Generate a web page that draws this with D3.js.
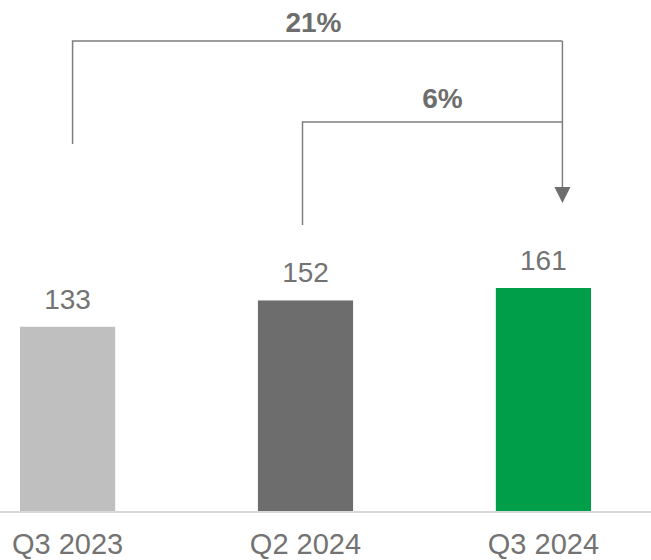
<!DOCTYPE html>
<html>
<head>
<meta charset="utf-8">
<script src="https://cdn.jsdelivr.net/npm/d3@7"></script>
<style>
  html, body { margin: 0; padding: 0; background: #fff; }
  svg { display: block; font-family: "Liberation Sans", Arial, sans-serif; }
</style>
</head>
<body>
<div id="chart"></div>
<script>
// ── Data ─────────────────────────────────────────────
const quarters = ["Q3 2023", "Q2 2024", "Q3 2024"];
const values   = [133, 152, 161];
const barColors = ["#bfbfbf", "#6d6d6d", "#009e49"];
// growth brackets: from quarter index -> to quarter index
const growthLabels = ["21%", "6%"];
const growthFrom   = [0, 1];
const growthTo     = [2, 2];

const width  = 651;
const height = 560;
const baseY  = 511;

const svg = d3.select("#chart").append("svg")
    .attr("width", width).attr("height", height);

const x = d3.scaleBand()
    .domain(quarters)
    .range([20, 591])
    .paddingInner(0.6)
    .paddingOuter(0);

const y = d3.scaleLinear()
    .domain([0, d3.max(values)])
    .range([baseY, 288]);

const data = quarters.map((q, i) => ({ q, v: values[i], c: barColors[i] }));

// bars
svg.selectAll("rect.bar")
    .data(data).join("rect").attr("class", "bar")
    .attr("x", d => x(d.q))
    .attr("y", d => y(d.v))
    .attr("width", x.bandwidth())
    .attr("height", d => y(0) - y(d.v))
    .attr("fill", d => d.c);

// baseline
svg.append("line")
    .attr("x1", 0).attr("x2", width)
    .attr("y1", baseY + 1).attr("y2", baseY + 1)
    .attr("stroke", "#d9d9d9").attr("stroke-width", 2);

// value labels
svg.selectAll("text.val")
    .data(data).join("text").attr("class", "val")
    .attr("x", d => x(d.q) + x.bandwidth() / 2)
    .attr("y", d => y(d.v) - 18)
    .attr("text-anchor", "middle")
    .style("font-size", "28px").style("fill", "#737373")
    .text(d => d.v);

// category labels
svg.selectAll("text.cat")
    .data(data).join("text").attr("class", "cat")
    .attr("x", d => x(d.q) + x.bandwidth() / 2)
    .attr("y", 554)
    .attr("text-anchor", "middle")
    .style("font-size", "29px").style("fill", "#737373")
    .text(d => d.q);

// growth brackets
const arrowX = x(quarters[2]) + x.bandwidth() / 2 + 19;
const bracketTop    = [41, 122];
const bracketBottom = [144, 225];
const startOffset   = [5, -3];
const labelGap      = [9, 14];

growthLabels.forEach((lab, i) => {
    const x0 = x(quarters[growthFrom[i]]) + x.bandwidth() / 2 + startOffset[i];
    svg.append("path")
        .attr("d", `M${x0},${bracketBottom[i]}V${bracketTop[i]}H${arrowX}`)
        .attr("fill", "none").attr("stroke", "#7f7f7f").attr("stroke-width", 1.5);
    svg.append("text")
        .attr("x", i === 0 ? (x0 + arrowX) / 2 - 4 : (x0 + arrowX) / 2 + 10)
        .attr("y", bracketTop[i] - labelGap[i])
        .attr("text-anchor", "middle")
        .style("font-size", "28px").style("font-weight", "bold").style("fill", "#6d6d6d")
        .text(lab);
});

// arrow shaft + head
svg.append("line")
    .attr("x1", arrowX).attr("x2", arrowX)
    .attr("y1", bracketTop[0]).attr("y2", 188)
    .attr("stroke", "#7f7f7f").attr("stroke-width", 1.5);
svg.append("path")
    .attr("d", `M${arrowX - 8},187L${arrowX + 8},187L${arrowX},203Z`)
    .attr("fill", "#6d6d6d");
</script>
</body>
</html>
